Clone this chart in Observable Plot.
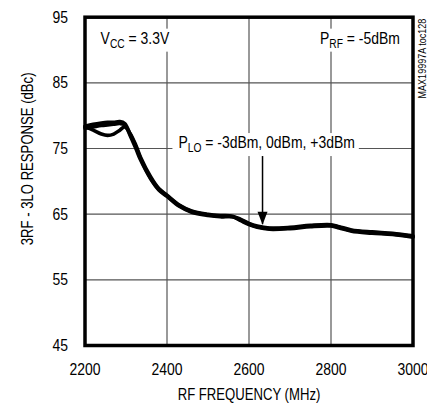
<!DOCTYPE html>
<html><head><meta charset="utf-8">
<script src="https://cdn.jsdelivr.net/npm/d3@7"></script>
<script src="https://cdn.jsdelivr.net/npm/@observablehq/plot@0.6"></script>
<style>
html,body{margin:0;padding:0;background:#fff;}
</style></head><body><div id="chart"></div>
<script>
// ---- data ----
const freq  = [2200, 2220, 2240, 2255, 2270, 2285, 2297, 2310, 2324, 2336, 2360, 2380, 2400, 2430, 2460, 2500, 2530, 2560, 2580, 2600, 2620, 2650, 2700, 2750, 2800, 2820, 2850, 2900, 2950, 3000];
const ploP3 = [78.4, 78.7, 78.9, 79.0, 79.0, 79.1, 78.8, 77.2, 75.3, 73.4, 70.5, 68.8, 67.8, 66.3, 65.4, 64.9, 64.7, 64.6, 64.1, 63.5, 63.1, 62.8, 62.9, 63.2, 63.3, 63.0, 62.5, 62.2, 62.0, 61.6];
const plo0  = [78.1, 78.3, 78.5, 78.6, 78.7, 78.8, 78.6, 77.0, 75.0, 73.2, 70.4, 68.7, 67.7, 66.2, 65.3, 64.8, 64.6, 64.6, 64.0, 63.4, 63.0, 62.7, 62.8, 63.1, 63.2, 62.9, 62.4, 62.1, 61.9, 61.5];
const ploM3 = [78.3, 77.8, 77.2, 77.0, 77.2, 77.8, 78.3, 77.3, 75.5, 73.6, 70.7, 68.9, 67.9, 66.4, 65.5, 65.0, 64.8, 64.7, 64.2, 63.6, 63.2, 62.9, 63.0, 63.3, 63.4, 63.1, 62.6, 62.3, 62.1, 61.7];
const seriesNames = ["+3dBm", "0dBm", "-3dBm"];
const xTicks = [2200, 2400, 2600, 2800, 3000];
const yTicks = [45, 55, 65, 75, 85, 95];
const gridX = [2400, 2600, 2800];
const gridY = [55, 65, 75, 85];
const noteMain = ["V", "P", "P"];
const noteSub  = ["CC", "RF", "LO"];
const noteRest = [" = 3.3V", " = -5dBm", " = -3dBm, 0dBm, +3dBm"];
const noteX = [2238, 2968, 2643];
const noteY = [91.8, 91.8, 75.9];
const noteAnchor = ["start", "end", "middle"];
const arrowX = [2633];
const arrowTop = 74.0, arrowTip = 63.4;
const xLabel = "RF FREQUENCY (MHz)";
const yLabel = "3RF - 3LO RESPONSE (dBc)";
const tag = "MAX19997A toc128";

// ---- build ----
const FONT = "'Liberation Sans', Arial, sans-serif";
const NARROW = 0.82; // horizontal condensing of the sans face
const series = [ploP3, plo0, ploM3];
const rows = series.flatMap((vals, s) => freq.map((f, i) => ({f, v: vals[i], s: seriesNames[s]})));

const headSymbol = {
  draw(ctx) { ctx.moveTo(0, 0); ctx.lineTo(-5, -13); ctx.lineTo(5, -13); ctx.closePath(); }
};

const noteMarks = noteMain.map((m, i) => Plot.text([i], {
  x: () => noteX[i], y: () => noteY[i],
  text: () => m + noteSub[i] + noteRest[i],
  textAnchor: noteAnchor[i], lineAnchor: "middle",
  fontSize: 17, fill: "black", ariaDescription: "note"
}));

const chart = Plot.plot({
  width: 427, height: 404,
  marginLeft: 84.5, marginRight: 14.5, marginTop: 16.7, marginBottom: 59,
  style: {fontFamily: FONT, fontSize: "17px", background: "white", color: "black", overflow: "visible"},
  x: {domain: [2200, 3000]},
  y: {domain: [45, 95]},
  marks: [
    Plot.ruleX(gridX, {stroke: "#555", strokeWidth: 1.2}),
    Plot.ruleY(gridY, {stroke: "#555", strokeWidth: 1.2}),
    Plot.axisX({ticks: xTicks, tickFormat: d => String(d), tickSize: 0, tickPadding: 17, fontSize: 17, label: null}),
    Plot.axisY({ticks: yTicks, tickFormat: d => String(d), tickSize: 0, tickPadding: 17, fontSize: 17, label: null}),
    Plot.line(rows, {x: "f", y: "v", z: "s", stroke: "black", strokeWidth: 3.6, curve: "catmull-rom"}),
    Plot.ruleX(arrowX, {y1: arrowTop, y2: arrowTip, stroke: "black", strokeWidth: 1.5}),
    Plot.dot(arrowX, {x: d => d, y: () => arrowTip, symbol: headSymbol, fill: "black", stroke: "none", r: 3}),
    ...noteMarks,
    Plot.text([xLabel], {text: d => d, frameAnchor: "bottom", lineAnchor: "middle", dy: 49, fontSize: 16, fill: "black"}),
    Plot.text([yLabel], {text: d => d, frameAnchor: "left", textAnchor: "middle", lineAnchor: "middle", rotate: -90, dx: -57.5, dy: -22.5, fontSize: 16, fill: "black"}),
    Plot.text([tag], {text: d => d, frameAnchor: "top-right", textAnchor: "end", lineAnchor: "middle", rotate: -90, dx: 9, dy: 1.5, fontSize: 11, fill: "black"}),
    Plot.frame({stroke: "black", strokeWidth: 3.5})
  ]
});
document.getElementById("chart").appendChild(chart);

const NS = "http://www.w3.org/2000/svg";
// subscripts for annotations
const noteTexts = [...chart.querySelectorAll('g[aria-description="note"] text')];
noteTexts.forEach((t, k) => {
  t.textContent = "";
  const a = document.createElementNS(NS, "tspan"); a.textContent = noteMain[k];
  const b = document.createElementNS(NS, "tspan"); b.textContent = noteSub[k];
  b.setAttribute("font-size", "12.5px"); b.setAttribute("dy", "4");
  const c = document.createElementNS(NS, "tspan"); c.textContent = noteRest[k];
  c.setAttribute("dy", "-4");
  t.append(a, b, c);
});
// condense every text horizontally (narrow sans look)
chart.querySelectorAll("text").forEach(t => {
  const len = t.getComputedTextLength();
  if (len > 0) {
    t.setAttribute("textLength", (len * NARROW).toFixed(2));
    t.setAttribute("lengthAdjust", "spacingAndGlyphs");
  }
});
// white boxes behind annotations
noteTexts.forEach(t => {
  const bb = t.getBBox();
  const r = document.createElementNS(NS, "rect");
  r.setAttribute("x", bb.x - 6); r.setAttribute("y", bb.y);
  r.setAttribute("width", bb.width + 10); r.setAttribute("height", bb.height + 1);
  r.setAttribute("fill", "white");
  const tr = t.getAttribute("transform");
  if (tr) r.setAttribute("transform", tr);
  t.parentNode.insertBefore(r, t);
});
</script>
</body></html>
